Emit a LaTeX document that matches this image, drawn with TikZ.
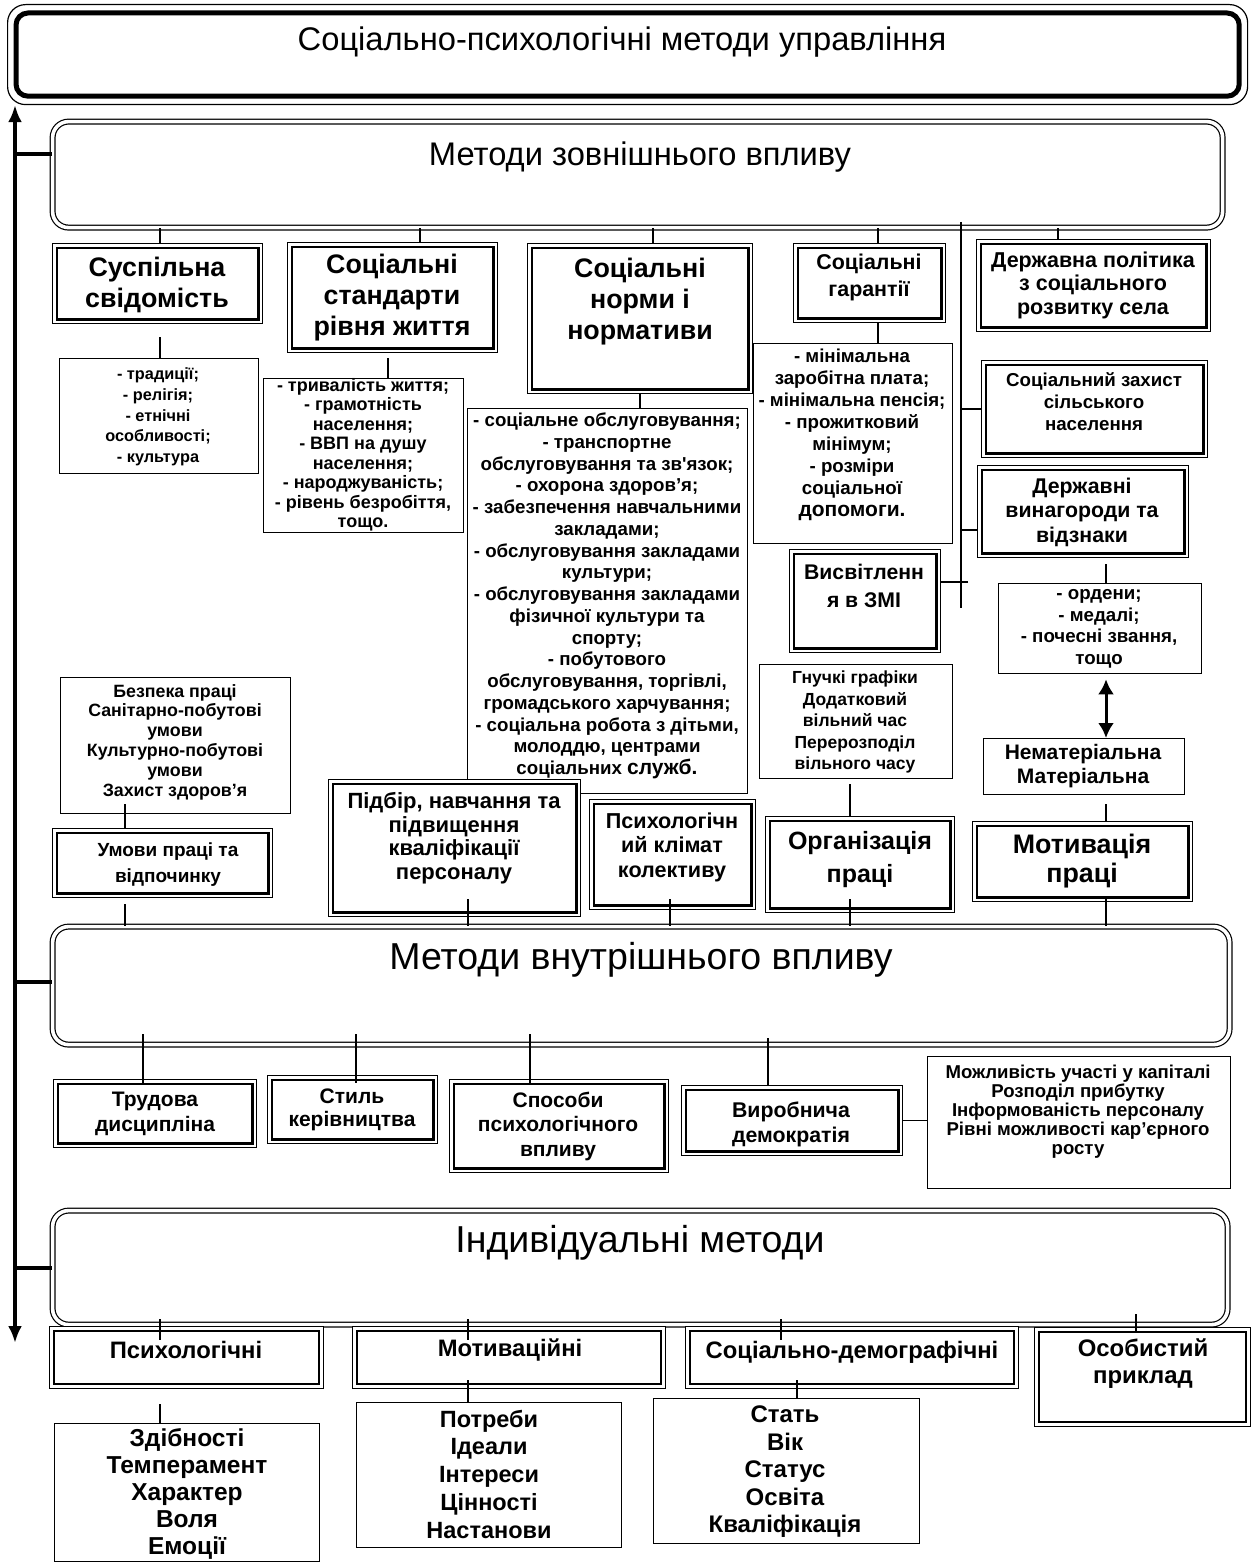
\documentclass[tikz,border=0pt]{standalone}
\usepackage{fontspec}
\setmainfont{Liberation Sans}
\usetikzlibrary{arrows.meta}
\newcommand\fz[2]{\fontsize{#1}{#2}\selectfont}
\newcommand\sq{\XeTeXglyph\the\XeTeXglyphindex "quotesingle"\relax}
\newcommand\mkbox[6]{\node[#1,anchor=north west,inner sep=0pt,minimum width={(#5)-(#3)},minimum height={(#6)-(#4)}] (#2) at (#3,#4) {};}
\newcommand\mkin[2]{\draw[#1] ([shift={(5pt,5pt)}]#2.south west) rectangle ([shift={(-5pt,-5pt)}]#2.north east);}
\tikzset{
 lb/.style={draw,line width=1.3pt,fill=white},
 ob/.style={draw,line width=1.1pt,fill=white},
 ib/.style={line width=2.8pt},
 ib2/.style={line width=2pt},
 rb/.style={draw,double,double distance=3.6pt,line width=1.2pt,rounded corners=16pt,anchor=north west,inner sep=0pt},
 cn/.style={line width=1.4pt},
 br/.style={line width=4pt},
 spine/.style={line width=3.5pt,{Latex[length=17pt,width=14pt]}-{Latex[length=17pt,width=14pt]}},
 dar/.style={line width=3pt,{Latex[length=15pt,width=16pt]}-{Latex[length=15pt,width=16pt]}},
 tx/.style={align=center,inner sep=0pt},
 hb/.style={tx,font={\fz{26.8}{31}\bfseries}},
}
\begin{document}
\begin{tikzpicture}[x=1pt,y=-1pt]
\useasboundingbox (0,0) rectangle (1251,1562);
\fill[white] (0,0) rectangle (1251,1562);
% ---------- main boxes
\node[draw,line width=1.2pt,rounded corners=18pt,anchor=north west,inner sep=0pt,minimum width=1240,minimum height=100] (top) at (7,4) {};
\draw[line width=5pt,rounded corners=12pt] ([shift={(9pt,9pt)}]top.south west) rectangle ([shift={(-9pt,-9pt)}]top.north east);
\node[rb,minimum width=1170,minimum height=106] (ext) at (52,121) {};
\node[rb,minimum width=1177,minimum height=118] (int) at (52,926) {};
\node[rb,minimum width=1175,minimum height=114] (ind) at (52,1210) {};
% ---------- row 1
\mkbox{ob}{sus}{52}{243}{262}{323} \mkin{ib}{sus}
\mkbox{ob}{std}{287}{242}{497}{352} \mkin{ib}{std}
\mkbox{ob}{nor}{527}{243}{752}{393} \mkin{ib}{nor}
\mkbox{ob}{gar}{793}{243}{945}{322} \mkin{ib}{gar}
\mkbox{ob}{pol}{976}{239}{1210}{331} \mkin{ib}{pol}
\mkbox{lb}{l1}{59}{358}{258}{473}
\mkbox{lb}{l2}{263}{378}{463}{532}
\mkbox{lb}{l3}{467}{408}{747}{793}
\mkbox{lb}{l4}{753}{343}{952}{543}
\mkbox{ob}{szah}{981}{360}{1207}{457} \mkin{ib}{szah}
\mkbox{ob}{vyn}{977}{465}{1188}{557} \mkin{ib}{vyn}
\mkbox{ob}{zmi}{789}{549}{940}{652} \mkin{ib}{zmi}
\mkbox{lb}{ord}{998}{583}{1201}{673}
\mkbox{lb}{gn}{759}{664}{952}{778}
\mkbox{lb}{nm}{983}{738}{1184}{794}
\mkbox{lb}{bez}{60}{677}{290}{813}
\mkbox{ob}{umo}{52}{828}{272}{897} \mkin{ib}{umo}
\mkbox{ob}{pid}{328}{779}{580}{916} \mkin{ib}{pid}
\mkbox{ob}{psk}{589}{799}{755}{909} \mkin{ib}{psk}
\mkbox{ob}{org}{765}{816}{954}{912} \mkin{ib}{org}
\mkbox{ob}{mot}{972}{821}{1192}{901} \mkin{ib}{mot}
% ---------- row 3
\mkbox{ob}{tru}{53}{1079}{256}{1147} \mkin{ib}{tru}
\mkbox{ob}{sti}{267}{1075}{437}{1143} \mkin{ib}{sti}
\mkbox{ob}{spo}{449}{1079}{668}{1172} \mkin{ib}{spo}
\mkbox{ob}{vyr}{681}{1085}{902}{1155} \mkin{ib}{vyr}
\mkbox{lb}{mozh}{927}{1056}{1230}{1188}
% ---------- row 4
\mkbox{ob}{psi}{49}{1326}{323}{1388} \mkin{ib2}{psi}
\mkbox{ob}{motv}{352}{1326}{665}{1388} \mkin{ib2}{motv}
\mkbox{ob}{sdem}{685}{1326}{1018}{1388} \mkin{ib2}{sdem}
\mkbox{ob}{osob}{1034}{1327}{1250}{1426} \mkin{ib2}{osob}
\mkbox{lb}{lz}{54}{1423}{319}{1561}
\mkbox{lb}{lp}{356}{1402}{621}{1547}
\mkbox{lb}{ls}{653}{1398}{919}{1543}
% ---------- connector x positions
\foreach \v in {125,143,160,356,388,420,468,530,640,653,670,768,781,797,850,878,1058,1106,1136}
  {\coordinate (k\v) at (\v,0);}
% ---------- spine
\coordinate (sp) at (15,1343);
\draw[spine] (sp) -- (sp |- top.south);
\coordinate (s1) at (15,154);
\coordinate (s2) at (15,982);
\coordinate (s3) at (15,1268);
\draw[br] (s1) -- (s1 -| ext.west);
\draw[br] (s2) -- (s2 -| int.west);
\draw[br] (s3) -- (s3 -| ind.west);
% ---------- external connectors
\draw[cn] (sus.north -| k160) -- (ext.south -| k160);
\draw[cn] (std.north -| k420) -- (ext.south -| k420);
\draw[cn] (nor.north -| k653) -- (ext.south -| k653);
\draw[cn] (gar.north -| k878) -- (ext.south -| k878);
\draw[cn] (pol.north -| k1058) -- (ext.south -| k1058);
\coordinate (vT) at (961,222);
\coordinate (vB) at (961,608);
\draw[cn] (vT) -- (vB);
\draw[cn] (vT |- szah.west) -- (szah.west);
\coordinate (b2) at (961,530);
\draw[cn] (b2) -- (b2 -| vyn.west);
\coordinate (b3) at (968,582);
\draw[cn] (b3) -- (b3 -| zmi.east);
\draw[cn,shorten >=13pt] (l1.north -| k160) -- (sus.south -| k160);
\draw[cn,shorten >=5pt] (l2.north -| k388) -- (std.south -| k388);
\draw[cn] (l3.north -| k640) -- (nor.south -| k640);
\draw[cn] (l4.north -| k878) -- (gar.south -| k878);
\draw[cn,shorten >=6pt] (ord.north -| k1106) -- (vyn.south -| k1106);
\draw[dar,shorten <=5pt] (ord.south -| k1106) -- (nm.north -| k1106);
\draw[cn,shorten >=9pt] (mot.north -| k1106) -- (nm.south -| k1106);
\draw[cn,shorten >=5pt] (org.north -| k850) -- (gn.south -| k850);
\draw[cn,shorten >=-10pt] (umo.north -| k125) -- (bez.south -| k125);
% ---------- to internal box
\draw[cn,shorten <=6pt] (umo.south -| k125) -- (int.north -| k125);
\draw[cn,shorten <=-18pt] (pid.south -| k468) -- (int.north -| k468);
\draw[cn,shorten <=-11pt] (psk.south -| k670) -- (int.north -| k670);
\draw[cn,shorten <=-14pt] (org.south -| k850) -- (int.north -| k850);
\draw[cn,shorten <=-3pt] (mot.south -| k1106) -- (int.north -| k1106);
\draw[cn,shorten <=-11pt,shorten >=-4pt] (int.south -| k143) -- (tru.north -| k143);
\draw[cn,shorten <=-11pt,shorten >=-8pt] (int.south -| k356) -- (sti.north -| k356);
\draw[cn,shorten <=-11pt,shorten >=-4pt] (int.south -| k530) -- (spo.north -| k530);
\draw[cn,shorten <=-7pt,shorten >=-1pt] (int.south -| k768) -- (vyr.north -| k768);
\draw[cn] (vyr.east) -- (vyr.east -| mozh.west);
% ---------- individual
\draw[cn,shorten <=-6pt,shorten >=-14pt] (ind.south -| k160) -- (psi.north -| k160);
\draw[cn,shorten <=-6pt,shorten >=-14pt] (ind.south -| k468) -- (motv.north -| k468);
\draw[cn,shorten <=-6pt,shorten >=-14pt] (ind.south -| k781) -- (sdem.north -| k781);
\draw[cn,shorten <=-11pt,shorten >=-6pt] (ind.south -| k1136) -- (osob.north -| k1136);
\draw[cn,shorten >=15pt] (lz.north -| k160) -- (psi.south -| k160);
\draw[cn,shorten >=-9pt] (lp.north -| k468) -- (motv.south -| k468);
\draw[cn,shorten >=-9pt] (ls.north -| k797) -- (sdem.south -| k797);
% ---------- texts
\node[tx,font={\fz{32.7}{38}}] (ttop) at (622,42) {Соціально-психологічні методи управління};
\node[tx,font={\fz{32.7}{38}}] (text) at (640,157) {Методи зовнішнього впливу};
\node[tx,font={\fz{37.5}{42}}] (tint) at (641,960) {Методи внутрішнього впливу};
\node[tx,font={\fz{37.5}{42}}] (tind) at (640,1243) {Індивідуальні методи};
\node[hb] (tsus) at (157,285) {Суспільна\\свідомість};
\node[hb] (tstd) at (392,298) {Соціальні\\стандарти\\рівня життя};
\node[hb] (tnor) at (640,302) {Соціальні\\норми і\\нормативи};
\node[tx,font={\fz{21.4}{27}\bfseries}] (tgar) at (869,277) {Соціальні\\гарантії};
\node[tx,font={\fz{21.5}{23.5}\bfseries}] (tpol) at (1093,285) {Державна політика\\з соціального\\розвитку села};
\node[tx,font={\fz{16.3}{20.7}\bfseries}] (tl1) at (158,417) {- традиції;\\- релігія;\\- етнічні\\особливості;\\- культура};
\node[tx,font={\fz{18}{19.5}\bfseries}] (tl2) at (363,455) {- тривалість життя;\\- грамотність\\населення;\\- ВВП на душу\\населення;\\- народжуваність;\\- рівень безробіття,\\тощо.};
\node[tx,font={\fz{18.7}{21.75}\bfseries}] (tl3) at (607,596) {- соціальне обслуговування;\\- транспортне\\обслуговування та зв\sq язок;\\- охорона здоров’я;\\- забезпечення навчальними\\закладами;\\- обслуговування закладами\\культури;\\- обслуговування закладами\\фізичної культури та\\спорту;\\- побутового\\обслуговування, торгівлі,\\громадського харчування;\\- соціальна робота з дітьми,\\молоддю, центрами\\соціальних {\fz{21}{21.75}служб.}};
\node[tx,font={\fz{18.7}{22}\bfseries}] (tl4) at (852,435) {- мінімальна\\заробітна плата;\\- мінімальна пенсія;\\- прожитковий\\мінімум;\\- розміри\\соціальної\\{\fz{21}{22}допомоги.}};
\node[tx,font={\fz{18.7}{22}\bfseries}] (tszah) at (1094,402) {Соціальний захист\\сільського\\населення};
\node[tx,font={\fz{21.3}{24.5}\bfseries}] (tvyn) at (1082,512) {Державні\\винагороди та\\відзнаки};
\node[tx,font={\fz{21.2}{28}\bfseries}] (tzmi) at (864,586) {Висвітленн\\я в ЗМІ};
\node[tx,font={\fz{18.7}{21.5}\bfseries}] (tord) at (1099,629) {- ордени;\\- медалі;\\- почесні звання,\\тощо};
\node[tx,font={\fz{21}{24}\bfseries}] (tnm) at (1083,766) {Нематеріальна\\Матеріальна};
\node[tx,font={\fz{26.8}{29}\bfseries}] (tmot) at (1082,861) {Мотивація\\праці};
\node[tx,font={\fz{17.5}{21.5}\bfseries}] (tgn) at (855,722) {Гнучкі графіки\\Додатковий\\вільний час\\Перерозподіл\\вільного часу};
\node[tx,font={\fz{25}{33}\bfseries}] (torg) at (860,860) {Організація\\праці};
\node[tx,font={\fz{21.6}{24.5}\bfseries}] (tpsk) at (672,847) {Психологічн\\ий клімат\\колективу};
\node[tx,font={\fz{22}{23.5}\bfseries}] (tpid) at (454,838) {Підбір, навчання та\\підвищення\\кваліфікації\\персоналу};
\node[tx,font={\fz{17.8}{19.8}\bfseries}] (tbez) at (175,742) {Безпека праці\\Санітарно-побутові\\умови\\Культурно-побутові\\умови\\Захист здоров’я};
\node[tx,font={\fz{19}{26}\bfseries}] (tumo) at (168,865) {Умови праці та\\відпочинку};
\node[tx,font={\fz{21}{25}\bfseries}] (ttru) at (155,1114) {Трудова\\дисципліна};
\node[tx,font={\fz{21}{23.5}\bfseries}] (tsti) at (352,1110) {Стиль\\керівництва};
\node[tx,font={\fz{21}{24.5}\bfseries}] (tspo) at (558,1126) {Способи\\психологічного\\впливу};
\node[tx,font={\fz{21.3}{25}\bfseries}] (tvyr) at (791,1124) {Виробнича\\демократія};
\node[tx,font={\fz{18.6}{19}\bfseries}] (tmozh) at (1078,1112) {Можливість участі у капіталі\\Розподіл прибутку\\Інформованість персоналу\\Рівні можливості кар’єрного\\росту};
\node[tx,font={\fz{23.8}{26}\bfseries}] (tpsi) at (186,1350) {Психологічні};
\node[tx,font={\fz{23.8}{26}\bfseries}] (tmotv) at (510,1350) {Мотиваційні};
\node[tx,font={\fz{23.8}{26}\bfseries}] (tsdem) at (852,1352) {Соціально-демографічні};
\node[tx,font={\fz{23.9}{27}\bfseries}] (tosob) at (1143,1364) {Особистий\\приклад};
\node[tx,font={\fz{24.5}{27}\bfseries}] (tlz) at (187,1494) {Здібності\\Темперамент\\Характер\\Воля\\Емоції};
\node[tx,font={\fz{23.5}{27.75}\bfseries}] (tlp) at (489,1474) {Потреби\\Ідеали\\Інтереси\\Цінності\\Настанови};
\node[tx,font={\fz{24}{27.5}\bfseries}] (tls) at (785,1472) {Стать\\Вік\\Статус\\Освіта\\Кваліфікація};
\end{tikzpicture}
\end{document}
